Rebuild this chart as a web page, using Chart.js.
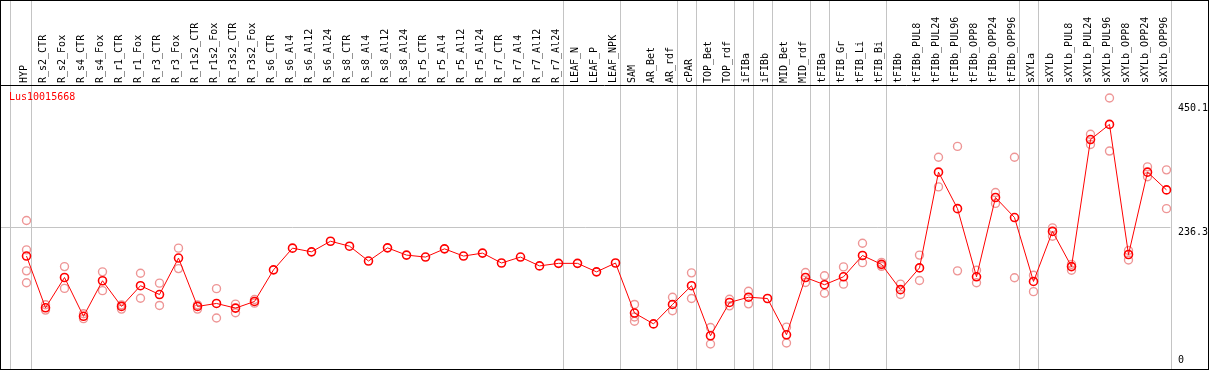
<!DOCTYPE html>
<html>
<head>
<meta charset="utf-8">
<script src="https://cdn.jsdelivr.net/npm/chart.js@4/dist/chart.umd.min.js"></script>
<style>
  html, body { margin: 0; padding: 0; background: #fff; }
</style>
</head>
<body>
<canvas id="chart" width="1209" height="370"></canvas>
<script>
// Sample names along the top
const categories = [
  "HYP", "R_s2_CTR", "R_s2_Fox", "R_s4_CTR", "R_s4_Fox", "R_r1_CTR", "R_r1_Fox",
  "R_r3_CTR", "R_r3_Fox", "R_r1s2_CTR", "R_r1s2_Fox", "R_r3s2_CTR", "R_r3s2_Fox",
  "R_s6_CTR", "R_s6_Al4", "R_s6_Al12", "R_s6_Al24", "R_s8_CTR", "R_s8_Al4",
  "R_s8_Al12", "R_s8_Al24", "R_r5_CTR", "R_r5_Al4", "R_r5_Al12", "R_r5_Al24",
  "R_r7_CTR", "R_r7_Al4", "R_r7_Al12", "R_r7_Al24", "LEAF_N", "LEAF_P", "LEAF_NPK",
  "SAM", "AR_Bet", "AR_rdf", "cPAR", "TOP_Bet", "TOP_rdf", "iFIBa", "iFIBb",
  "MID_Bet", "MID_rdf", "tFIBa", "tFIB_Gr", "tFIB_Li", "tFIB_Bi", "tFIBb",
  "tFIBb_PUL8", "tFIBb_PUL24", "tFIBb_PUL96", "tFIBb_OPP8", "tFIBb_OPP24",
  "tFIBb_OPP96", "sXYLa", "sXYLb", "sXYLb_PUL8", "sXYLb_PUL24", "sXYLb_PUL96",
  "sXYLb_OPP8", "sXYLb_OPP24", "sXYLb_OPP96"
];

// Mean expression per sample (red line)
const meanValues = [
  186.1, 97.2, 149.3, 82.6, 143.7, 99.6, 135.2, 120.0, 182.7, 99.6, 104.7, 96.7, 108.1,
  162.4, 199.7, 193.4, 211.6, 203.1, 177.6, 200.2, 187.8, 184.4, 198.5, 186.1, 191.2,
  174.2, 184.4, 169.2, 173.6, 173.6, 159.0, 174.2,
  88.2, 69.6, 103.0, 135.2, 49.2, 106.4, 115.4, 113.2, 50.9, 149.3, 136.9, 150.5,
  187.1, 171.9, 128.4, 165.8, 330.3, 267.6, 150.5, 286.7, 252.3, 142.5, 228.5,
  168.0, 386.3, 412.3, 188.8, 330.3, 299.8
];

// Individual replicates (faded circles), one list per sample
const replicateValues = [
  [247.2, 196.8, 160.7, 140.3], [102.6, 93.3], [168.0, 130.6], [87.0, 78.6],
  [159.0, 126.7], [102.3, 95.0], [156.6, 113.7], [139.6, 101.3], [199.7, 164.6],
  [102.3, 95.0], [130.1, 79.7], [103.5, 88.7], [111.5, 105.2],
  [], [], [], [], [], [], [], [], [], [], [], [], [], [], [], [], [], [], [],
  [103.0, 81.4, 74.1], [], [115.4, 92.1], [157.3, 113.2], [63.3, 35.1],
  [112.0, 100.6], [125.6, 104.0], [], [64.0, 36.8], [157.8, 140.8], [152.2, 122.2],
  [167.5, 137.9], [208.2, 174.8], [175.3, 168.5], [137.9, 120.0], [187.8, 144.2],
  [355.8, 304.9], [374.5, 160.7], [161.7, 140.3], [295.2, 276.6], [355.8, 148.8],
  [153.2, 125.0], [234.6, 220.1], [171.9, 161.7], [395.3, 377.8], [457.6, 366.5],
  [195.6, 179.3], [339.3, 322.4], [334.2, 267.6]
];

// Labels on the right-hand value column
const yTickLabels = [450.1, 236.3, 0];
// Grid line value
const gridValue = 236.3;
// Group separators are drawn after these sample indexes
const groupBreaks = [-1, 0, 28, 31, 34, 35, 37, 38, 39, 41, 42, 45, 52, 53, 60];

const geneName = "Lus10015668";
const monoFont = "10px 'DejaVu Sans Mono', monospace";

// Flatten replicates into points for the scatter layer
const replicatePoints = [];
replicateValues.forEach((reps, i) => {
  reps.forEach((v) => replicatePoints.push({ x: categories[i], y: v }));
});

/* ----------------------------
    Frame, group separators, grid line, value labels and gene name
---------------------------- */
const decorations = {
  id: "decorations",
  beforeDraw(chart) {
    const { ctx, scales } = chart;
    const x = scales.x;
    const y = scales.y;
    const step = (x.right - x.left) / categories.length;
    ctx.save();
    ctx.strokeStyle = "#c4c4c4";
    ctx.lineWidth = 1;
    groupBreaks.forEach((i) => {
      // the first separator sits a little further left
      const shift = i < 0 ? 2 : 4;
      const px = Math.round(x.getPixelForValue(0) + i * step + shift) + 0.5;
      ctx.beginPath();
      ctx.moveTo(px, 0);
      ctx.lineTo(px, chart.height);
      ctx.stroke();
    });
    // horizontal grid line stops at the last separator
    const lastPx = x.getPixelForValue(0) + groupBreaks[groupBreaks.length - 1] * step + 4;
    const gy = Math.round(y.getPixelForValue(gridValue)) + 0.5;
    ctx.beginPath();
    ctx.moveTo(0, gy);
    ctx.lineTo(lastPx, gy);
    ctx.stroke();
    ctx.restore();
  },
  afterDraw(chart) {
    const { ctx, chartArea, scales } = chart;
    const y = scales.y;
    ctx.save();
    // outer frame and the line under the sample names
    ctx.strokeStyle = "black";
    ctx.lineWidth = 1;
    ctx.strokeRect(0.5, 0.5, chart.width - 1, chart.height - 1);
    ctx.beginPath();
    ctx.moveTo(0, Math.round(chartArea.top) + 0.5);
    ctx.lineTo(chart.width, Math.round(chartArea.top) + 0.5);
    ctx.stroke();
    // value labels
    ctx.font = monoFont;
    ctx.fillStyle = "black";
    ctx.textAlign = "left";
    ctx.textBaseline = "middle";
    yTickLabels.forEach((v) => {
      const py = Math.min(y.getPixelForValue(v) + 6, chartArea.bottom - 4);
      ctx.fillText(String(v), 1178, py);
    });
    // gene name
    ctx.fillStyle = "red";
    ctx.fillText(geneName, 9, chartArea.top + 12);
    ctx.restore();
  },
};

const config = {
  type: "line",
  data: {
    labels: categories,
    datasets: [
      {
        label: "mean",
        data: meanValues,
        borderColor: "rgb(255,0,0)",
        borderWidth: 1,
        pointRadius: 4,
        pointBorderWidth: 1.6,
        pointBorderColor: "rgb(255,0,0)",
        pointBackgroundColor: "rgba(0,0,0,0)",
        tension: 0,
      },
      {
        label: "replicates",
        type: "scatter",
        data: replicatePoints,
        showLine: false,
        pointRadius: 4,
        pointBorderWidth: 1.4,
        pointBorderColor: "rgb(238,150,150)",
        pointBackgroundColor: "rgba(0,0,0,0)",
      },
    ],
  },
  options: {
    responsive: false,
    animation: false,
    layout: { padding: { left: 17, right: 33, top: 0, bottom: 2 } },
    plugins: {
      legend: { display: false },
      tooltip: { enabled: false },
    },
    scales: {
      x: {
        type: "category",
        position: "top",
        offset: true,
        grid: { display: false, drawTicks: false },
        border: { display: false },
        ticks: {
          autoSkip: false,
          minRotation: 90,
          maxRotation: 90,
          padding: 2,
          labelOffset: 10,
          color: "black",
          font: { family: "'DejaVu Sans Mono', monospace", size: 10 },
        },
        afterFit(scale) {
          scale.height = 85;
        },
      },
      y: {
        display: false,
        min: 0,
        max: 480,
      },
    },
  },
  plugins: [decorations],
};

const ctx = document.getElementById("chart").getContext("2d");
const myChart = new Chart(ctx, config);
</script>
</body>
</html>
